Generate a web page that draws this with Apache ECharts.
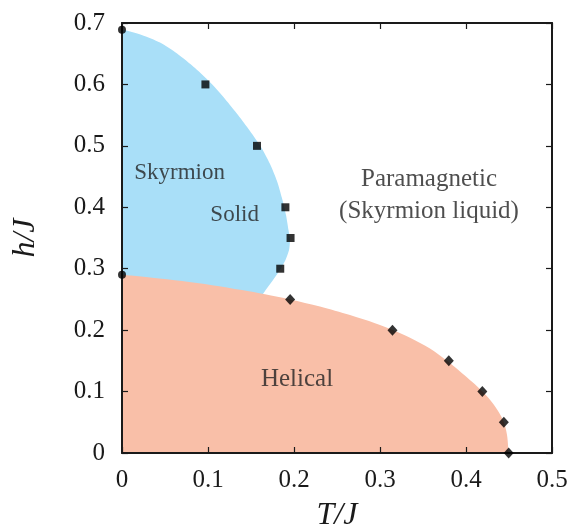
<!DOCTYPE html>
<html>
<head>
<meta charset="utf-8">
<script src="https://cdn.jsdelivr.net/npm/echarts@6/dist/echarts.min.js"></script>
<style>
  html, body { margin: 0; padding: 0; background: #fff; }
  #chart { width: 573px; height: 529px; }
</style>
</head>
<body>
<div id="chart"></div>
<script>
// Phase diagram of the chiral magnet in the (T/J, h/J) plane.

// Simulated transition points
const solidCircles = [[0, 0.689], [0, 0.29]];
const solidSquares = [[0.097, 0.6], [0.157, 0.5], [0.19, 0.4], [0.196, 0.35], [0.184, 0.3]];
const helicalDiamonds = [[0.1955, 0.25], [0.3145, 0.2], [0.38, 0.15], [0.419, 0.1], [0.444, 0.05], [0.4496, 0]];

// Phase boundary of the skyrmion-solid region (closed outline; the part left of T=0
// is clipped and the part below the helical boundary is covered)
const solidBoundary = [
  [-0.03, 0.689], [0, 0.689], [0.0229, 0.6805], [0.0442, 0.6682], [0.0640, 0.6503],
  [0.0849, 0.6267], [0.1047, 0.6002], [0.1198, 0.5763], [0.1349, 0.5503], [0.1488, 0.5242],
  [0.1616, 0.4982], [0.1721, 0.4705], [0.1802, 0.4428], [0.1860, 0.4151], [0.1907, 0.3874],
  [0.1936, 0.3630], [0.1953, 0.3467], [0.1942, 0.3305], [0.1901, 0.3142], [0.1837, 0.2979],
  [0.1756, 0.2816], [0.1663, 0.2637], [0.1593, 0.2491], [0.1500, 0.2312], [-0.03, 0.2312]
];

// Phase boundary of the helical region
const helicalBoundary = [
  [0, 0.290], [0.0349, 0.2854], [0.0698, 0.2800], [0.1047, 0.2732], [0.1395, 0.2653],
  [0.1663, 0.2583], [0.1953, 0.2499], [0.2302, 0.2385], [0.2651, 0.2246], [0.2942, 0.2113],
  [0.3148, 0.2002], [0.3349, 0.1875], [0.3581, 0.1701], [0.3794, 0.1486], [0.4000, 0.1245],
  [0.4198, 0.0993], [0.4326, 0.0781], [0.4430, 0.0537], [0.4477, 0.0293], [0.4494, 0]
];

// Region names: T, h, text, font size
const regionLabels = [
  [0.067, 0.456, 'Skyrmion', 23],
  [0.131, 0.387, 'Solid', 23],
  [0.357, 0.446, 'Paramagnetic', 25],
  [0.357, 0.394, '(Skyrmion liquid)', 25],
  [0.2035, 0.119, 'Helical', 25]
];

const xTicks = { min: 0, max: 0.5, interval: 0.1 };
const yTicks = { min: 0, max: 0.7, interval: 0.1 };

const serif = 'Liberation Serif';
const ink = '#1a1a1a';

const fmt = v => (Math.abs(v) < 1e-9 ? '0' : String(Math.round(v * 10) / 10));

const chart = echarts.init(document.getElementById('chart'), null, { renderer: 'canvas' });

const axisCommon = {
  type: 'value',
  z: 5,
  axisLine: { show: true, onZero: false, lineStyle: { color: ink, width: 2 } },
  axisTick: { show: true, inside: true, length: 6, lineStyle: { color: ink, width: 1.2 } },
  splitLine: { show: false }
};

chart.setOption({
  animation: false,
  backgroundColor: '#ffffff',
  textStyle: { fontFamily: serif },
  grid: { left: 122, right: 21, top: 23, bottom: 76, containLabel: false, outerBoundsMode: 'none' },
  xAxis: [
    Object.assign({}, axisCommon, {
      position: 'bottom',
      min: xTicks.min, max: xTicks.max, interval: xTicks.interval,
      name: 'T/J', nameLocation: 'middle', nameGap: 47,
      nameTextStyle: { fontFamily: serif, fontStyle: 'italic', fontSize: 32, color: ink },
      axisLabel: { margin: 15, fontFamily: serif, fontSize: 25, color: ink, formatter: fmt }
    }),
    Object.assign({}, axisCommon, {
      position: 'top',
      min: xTicks.min, max: xTicks.max, interval: xTicks.interval,
      axisLabel: { show: false }
    })
  ],
  yAxis: [
    Object.assign({}, axisCommon, {
      position: 'left',
      min: yTicks.min, max: yTicks.max, interval: yTicks.interval,
      name: 'h/J', nameLocation: 'middle', nameGap: 80, nameRotate: 90,
      nameTextStyle: { fontFamily: serif, fontStyle: 'italic', fontSize: 32, color: ink },
      axisLabel: { margin: 17, fontFamily: serif, fontSize: 25, color: ink, formatter: fmt }
    }),
    Object.assign({}, axisCommon, {
      position: 'right',
      min: yTicks.min, max: yTicks.max, interval: yTicks.interval,
      axisLabel: { show: false }
    })
  ],
  series: [
    {
      // skyrmion-solid region
      type: 'custom',
      z: 1,
      silent: true,
      clip: true,
      data: [0],
      renderItem: function (params, api) {
        return {
          type: 'polygon',
          shape: {
            points: solidBoundary.map(p => api.coord(p)),
            smooth: 0.25
          },
          style: { fill: '#a9dff8', stroke: null }
        };
      }
    },
    {
      // helical region
      type: 'line',
      z: 2,
      silent: true,
      data: helicalBoundary,
      smooth: 0.3,
      showSymbol: false,
      lineStyle: { width: 0, opacity: 0 },
      areaStyle: { color: '#f9bfa8', opacity: 1, origin: 'start' }
    },
    {
      type: 'scatter',
      z: 10,
      clip: false,
      data: solidCircles,
      symbol: 'circle',
      symbolSize: 8,
      itemStyle: { color: '#000' }
    },
    {
      type: 'scatter',
      z: 10,
      clip: false,
      data: solidSquares,
      symbol: 'rect',
      symbolSize: 8,
      itemStyle: { color: '#000' }
    },
    {
      type: 'scatter',
      z: 10,
      clip: false,
      data: helicalDiamonds,
      symbol: 'diamond',
      symbolSize: [10, 11],
      itemStyle: { color: '#000' }
    },
    {
      type: 'scatter',
      z: 12,
      silent: true,
      data: regionLabels.map(r => ({ value: [r[0], r[1]], name: r[2],
        label: { fontSize: r[3] } })),
      symbolSize: 0,
      label: {
        show: true,
        position: 'inside',
        formatter: p => p.name,
        fontFamily: serif,
        color: '#222'
      }
    }
  ]
});
</script>
</body>
</html>
